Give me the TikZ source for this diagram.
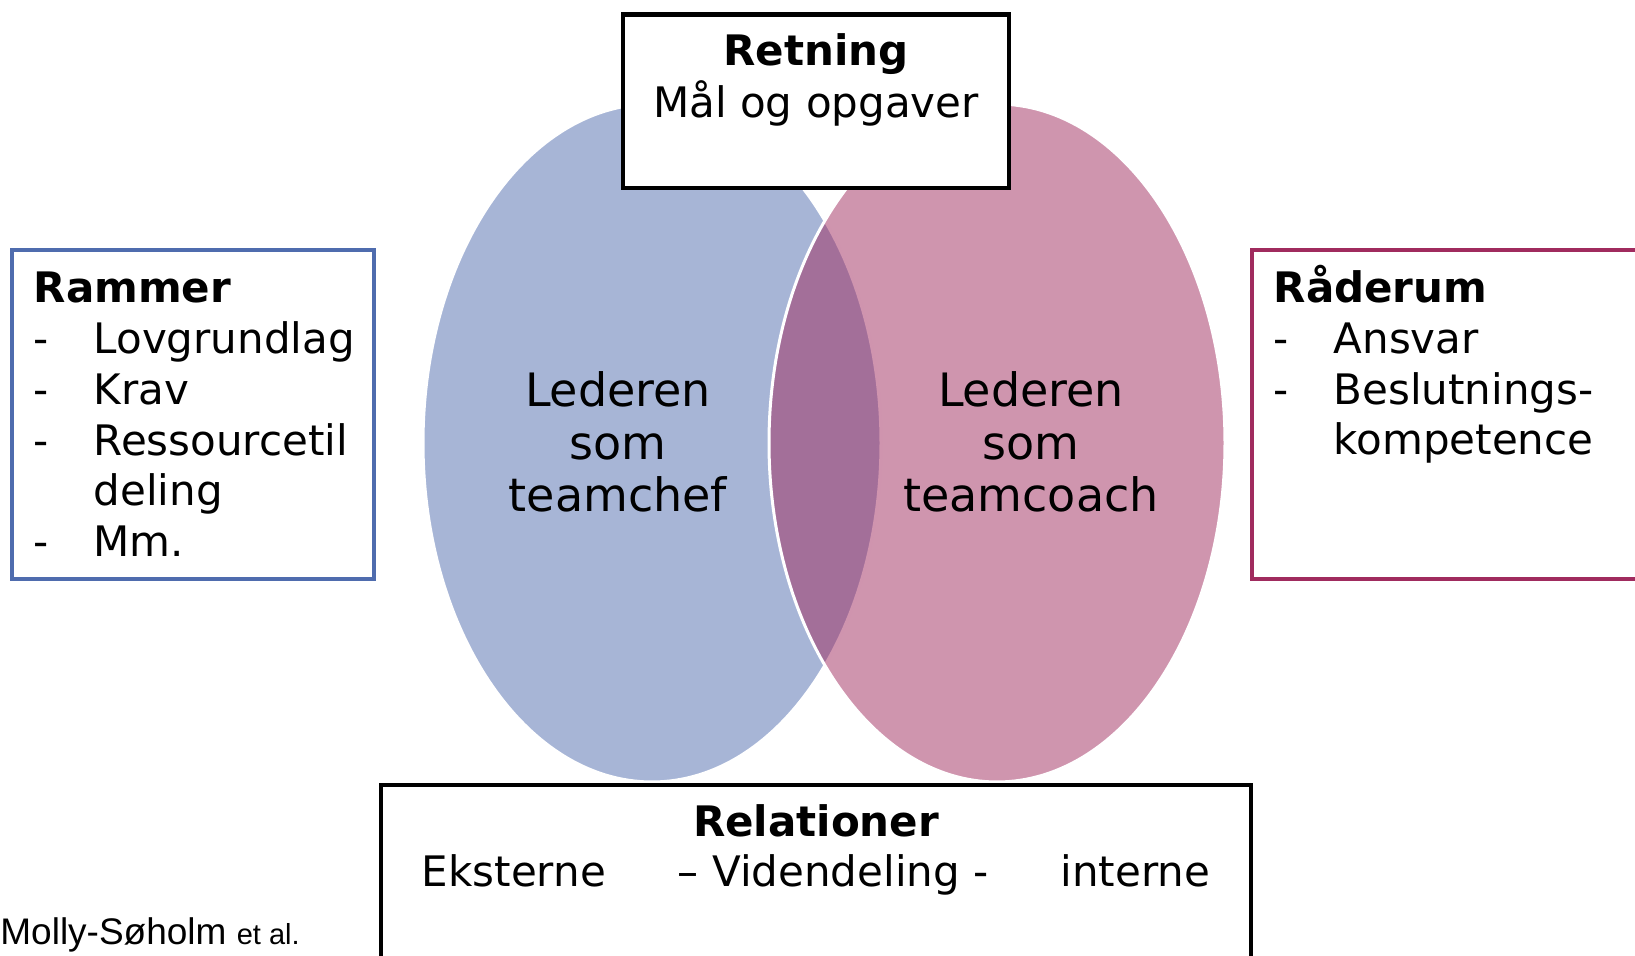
\documentclass[tikz,border=0pt]{standalone}
\usepackage{fontspec}
\setmainfont{DejaVu Sans}
\newfontfamily\footfont{Liberation Sans}
\usetikzlibrary{shapes.geometric,positioning}
\definecolor{rammeblue}{RGB}{79,108,174}
\definecolor{raaderumred}{RGB}{160,43,94}
\newcommand{\listdash}{\makebox[30pt][l]{-}}
\newcommand{\listindent}{\hspace*{30pt}}
\tikzset{
  panel/.style={
    rectangle,
    draw=black, line width=2.4pt,
    fill=white,
    inner sep=0pt, outer sep=0pt,
    anchor=north west
  },
  venn/.style={
    ellipse,
    draw=white, line width=1.5pt,
    fill opacity=0.5,
    inner sep=0pt
  },
  boxtext/.style={
    align=left, inner sep=0pt,
    font=\fontsize{21}{25.4}\selectfont
  },
  venntext/.style={
    align=center, inner sep=0pt,
    font=\fontsize{23}{26.25}\selectfont
  },
}

\begin{document}
\begin{tikzpicture}[x=0.5pt,y=-0.5pt]

\useasboundingbox (0,0) rectangle (1635,956);
\clip (0,0) rectangle (1635,956);

% the two leader roles
\node[venn, fill=rammeblue, minimum width=229pt, minimum height=339pt] (CHEF) at (652,443) {};
\node[venn, fill=raaderumred, minimum width=228pt, minimum height=339pt] (COACH) at (997,443) {};

% base = last line
\node[venntext, below left=34.35pt and 17pt of CHEF.center, anchor=base] (CHEFTXT) {Lederen\\ som\\ teamchef};
\node[venntext, below right=34.35pt and 17pt of COACH.center, anchor=base] (COACHTXT) {Lederen\\ som\\ teamcoach};

% boxes round the circles
\node[panel, minimum width=193pt, minimum height=86.7pt] (RETNING) at (623,14.6) {};
\node[boxtext, align=center, below=51.5pt of RETNING.north, anchor=base, font=\fontsize{21}{26}\selectfont] (RETNINGTXT) {\textbf{Retning}\\ Mål og opgaver};

\node[panel, draw=rammeblue, line width=2pt, minimum width=181.15pt, minimum height=164.75pt] (RAMMER) at (11.7,250) {};
\node[boxtext, below right=153.35pt and 10.8pt of RAMMER.north west, anchor=base west] (RAMMERTXT) {\textbf{Rammer}\\ \listdash Lovgrundlag\\ \listdash Krav\\ \listdash Ressourcetil\\ \listindent deling\\ \listdash Mm.};

\node[panel, draw=raaderumred, line width=2pt, minimum width=199pt, minimum height=164.75pt] (RAADERUM) at (1251.7,250) {};
\node[boxtext, below right=102.5pt and 10.8pt of RAADERUM.north west, anchor=base west] (RAADERUMTXT) {\textbf{Råderum}\\ \listdash Ansvar\\ \listdash Beslutnings-\\ \listindent kompetence};

\node[panel, minimum width=435pt, minimum height=92.5pt] (RELATIONER) at (381,785) {};
\node[boxtext, align=center, below=50.85pt of RELATIONER.north, anchor=base, font=\fontsize{21}{25}\selectfont] (RELATIONERTXT) {\textbf{Relationer}\\ Eksterne\hspace{36pt}– Videndeling -\hspace{36pt}interne};

\node[anchor=base west, inner sep=0pt, font=\footfont\fontsize{18.5}{22}\selectfont] (KILDE) at (0,945) {Molly-Søholm {\fontsize{14.5}{17}\selectfont et al.}};

\end{tikzpicture}
\end{document}
